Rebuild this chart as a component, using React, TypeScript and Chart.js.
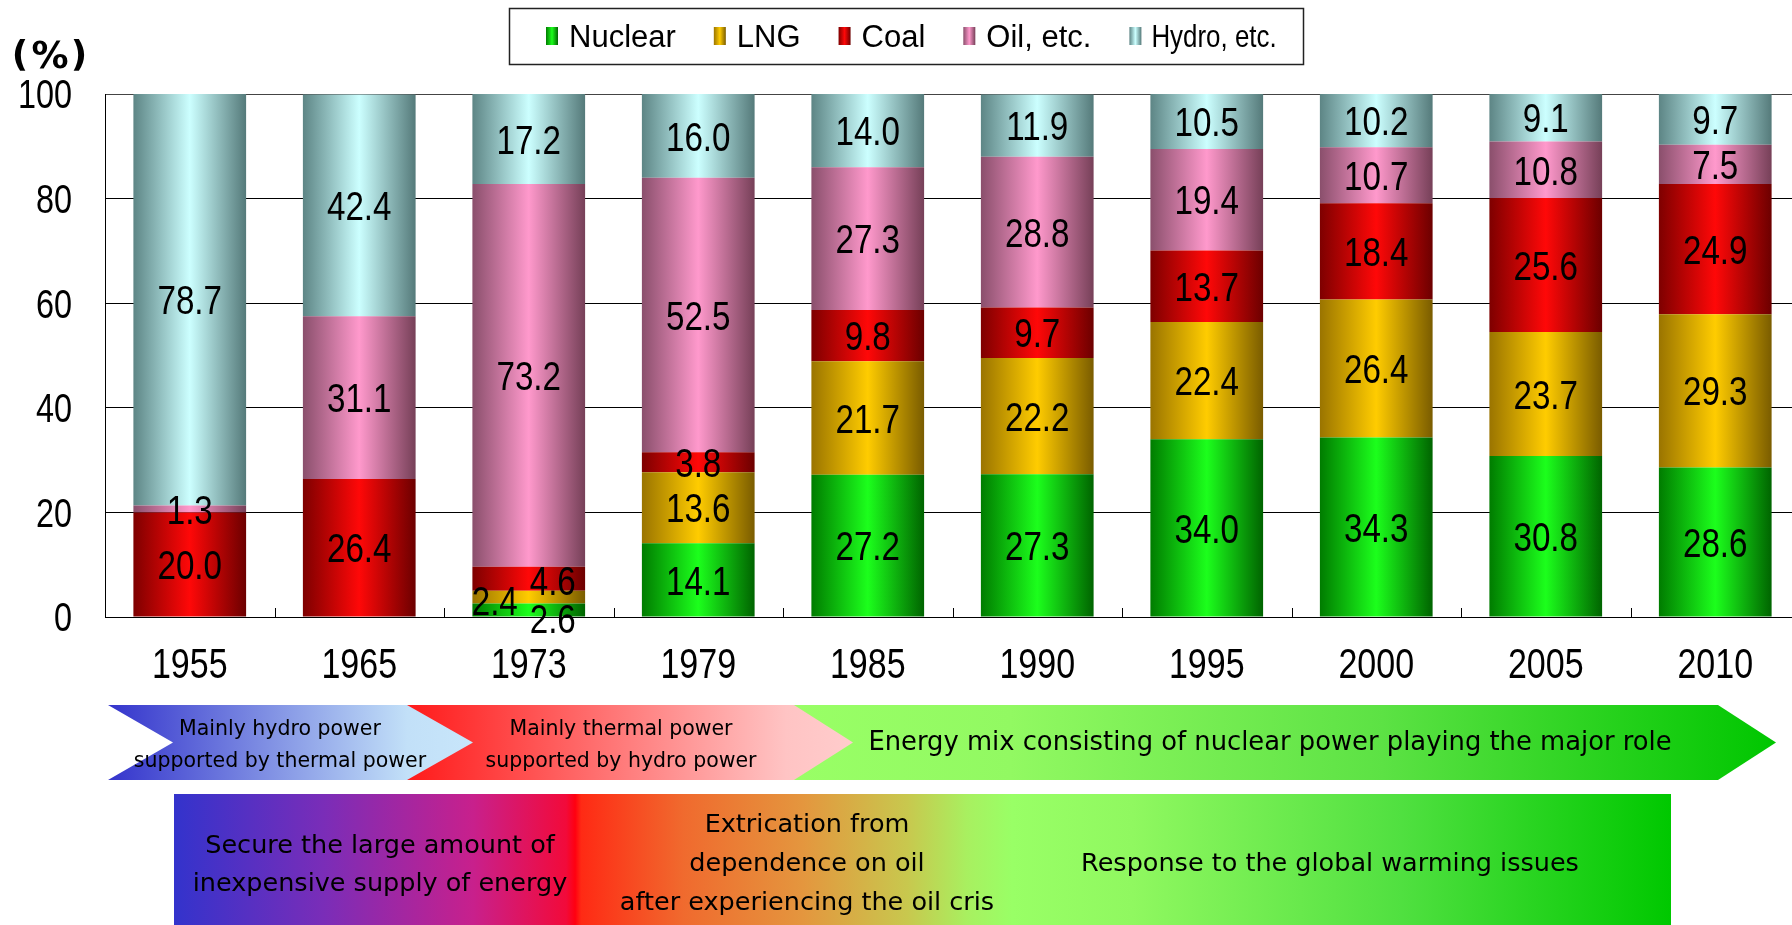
import { useEffect, useRef } from "react";
import { Chart, registerables } from "chart.js";

Chart.register(...registerables);

// Fiscal years on the category axis
const years = ["1955", "1965", "1973", "1979", "1985", "1990", "1995", "2000", "2005", "2010"];

// Share of generated electricity by source (%)
const nuclear = [0, 0, 2.6, 14.1, 27.2, 27.3, 34.0, 34.3, 30.8, 28.6];
const lng = [0, 0, 2.4, 13.6, 21.7, 22.2, 22.4, 26.4, 23.7, 29.3];
const coal = [20.0, 26.4, 4.6, 3.8, 9.8, 9.7, 13.7, 18.4, 25.6, 24.9];
const oil = [1.3, 31.1, 73.2, 52.5, 27.3, 28.8, 19.4, 10.7, 10.8, 7.5];
const hydro = [78.7, 42.4, 17.2, 16.0, 14.0, 11.9, 10.5, 10.2, 9.1, 9.7];

const sourceNames = ["Nuclear", "LNG", "Coal", "Oil, etc.", "Hydro, etc."];
const yTickValues = [0, 20, 40, 60, 80, 100];

// Phases of the power supply structure
const phaseTexts = [
  ["Mainly hydro power", "supported by thermal power"],
  ["Mainly thermal power", "supported by hydro power"],
  ["Energy mix consisting of nuclear power playing the major role"],
];
// Policy goals underneath the phases
const goalTexts = [
  ["Secure the large amount of", "inexpensive supply of energy"],
  ["Extrication from", "dependence on oil", "after experiencing the oil cris"],
  ["Response to the global warming issues"],
];

const REGULAR = '"Liberation Sans", Arial, sans-serif';
const CAPTION = '"DejaVu Sans", Verdana, sans-serif';
// horizontal squeeze that gives the tall, narrow numerals
const SQUEEZE = 0.81;
const CAP = 0.716; // cap height of Liberation Sans, in em

const BAR_PCT = 0.665;

// Cylinder shading for each source: left edge, highlight, right edge
const shades = [
  { dark: "#007c00", light: "#1cff1c", edge: "#006400" },
  { dark: "#9a7400", light: "#ffcc00", edge: "#7a5c00" },
  { dark: "#7e0000", light: "#ff0808", edge: "#6c0000" },
  { dark: "#8a4f6c", light: "#ff99cc", edge: "#764058" },
  { dark: "#5d8585", light: "#ccffff", edge: "#557a7a" },
];

// Small nudges for labels of the thin 1973 segments
const labelNudges: Record<string, [number, number]> = {
  "0-2": [24, 8],
  "1-2": [-34, 3],
  "2-2": [24, 2],
};

function cylinder(i: number) {
  const s = shades[i];
  return (c: any) => {
    const chart = c.chart;
    const xs = chart.scales && chart.scales.x;
    if (!xs || c.dataIndex == null || c.type !== "data") return s.light;
    const cx = xs.getPixelForValue(c.dataIndex);
    const half = ((xs.width / years.length) * BAR_PCT) / 2;
    if (!Number.isFinite(cx) || !Number.isFinite(half) || half <= 0) return s.light;
    const g = chart.ctx.createLinearGradient(cx - half, 0, cx + half, 0);
    g.addColorStop(0, s.dark);
    g.addColorStop(0.5, s.light);
    g.addColorStop(1, s.edge);
    return g;
  };
}

function hGradient(ctx: CanvasRenderingContext2D, x0: number, x1: number, stops: [number, string][]) {
  const g = ctx.createLinearGradient(x0, 0, x1, 0);
  stops.forEach(([o, col]) => g.addColorStop(o, col));
  return g;
}

function chevron(ctx: CanvasRenderingContext2D, x0: number, x1: number, tip: number, top: number, bottom: number, notch?: number) {
  const mid = (top + bottom) / 2;
  ctx.beginPath();
  ctx.moveTo(x0, top);
  ctx.lineTo(x1, top);
  ctx.lineTo(tip, mid);
  ctx.lineTo(x1, bottom);
  ctx.lineTo(x0, bottom);
  if (notch !== undefined) ctx.lineTo(notch, mid);
  ctx.closePath();
}

function centeredLines(ctx: CanvasRenderingContext2D, lines: string[], cx: number, ys: number[]) {
  lines.forEach((t, k) => ctx.fillText(t, cx, ys[k]));
}

// narrow text whose capitals are vertically centred on cy
function narrowText(ctx: CanvasRenderingContext2D, text: string, x: number, cy: number, size: number, align: CanvasTextAlign) {
  ctx.save();
  ctx.translate(x, cy + (CAP * size) / 2);
  ctx.scale(SQUEEZE, 1);
  ctx.font = `${size}px ${REGULAR}`;
  ctx.textAlign = align;
  ctx.textBaseline = "alphabetic";
  ctx.fillText(text, 0, 0);
  ctx.restore();
}

const valueLabels = {
  id: "valueLabels",
  afterDatasetsDraw(chart: any) {
    const ctx: CanvasRenderingContext2D = chart.ctx;
    ctx.save();
    ctx.fillStyle = "#000";
    chart.data.datasets.forEach((ds: any, di: number) => {
      const meta = chart.getDatasetMeta(di);
      meta.data.forEach((el: any, i: number) => {
        const v = ds.data[i] as number;
        if (!v) return;
        const [dx, dy] = labelNudges[`${di}-${i}`] || [0, 0];
        narrowText(ctx, v.toFixed(1), el.x + dx, (el.y + el.base) / 2 + dy, 41, "center");
      });
    });
    ctx.restore();
  },
};

const axisLabels = {
  id: "axisLabels",
  afterDraw(chart: any) {
    const ctx: CanvasRenderingContext2D = chart.ctx;
    const xs = chart.scales.x;
    const ys = chart.scales.y;
    ctx.save();
    ctx.fillStyle = "#000";
    xs.ticks.forEach((t: any, i: number) => {
      narrowText(ctx, String(xs.getLabelForValue(t.value)), xs.getPixelForTick(i), chart.chartArea.bottom + 46, 42, "center");
    });
    ys.ticks.forEach((t: any) => {
      narrowText(ctx, String(t.value), ys.left + ys.width - 33, ys.getPixelForValue(t.value), 40, "right");
    });
    ctx.restore();
  },
};

const decorations = {
  id: "decorations",
  afterDraw(chart: any) {
    const ctx: CanvasRenderingContext2D = chart.ctx;
    const xs = chart.scales.x;
    const area = chart.chartArea;
    ctx.save();

    // inward tick marks between categories
    ctx.strokeStyle = "#000";
    ctx.lineWidth = 1;
    for (let i = 1; i < years.length; i++) {
      const x = Math.round((xs.getPixelForValue(i - 1) + xs.getPixelForValue(i)) / 2) + 0.5;
      ctx.beginPath();
      ctx.moveTo(x, area.bottom);
      ctx.lineTo(x, area.bottom - 9);
      ctx.stroke();
    }

    // unit label
    ctx.fillStyle = "#000";
    ctx.textAlign = "center";
    ctx.textBaseline = "middle";
    ctx.font = `bold 36px ${CAPTION}`;
    ctx.fillText("(", 20, 57);
    ctx.fillText(")", 79, 57);
    ctx.font = `bold 37px ${CAPTION}`;
    ctx.fillText("%", 50, 58);

    // legend
    ctx.lineWidth = 1.5;
    ctx.strokeStyle = "#222";
    ctx.strokeRect(509.5, 8.5, 794, 56);
    let lx = 546;
    chart.data.datasets.forEach((ds: any, di: number) => {
      const s = shades[di];
      ctx.fillStyle = hGradient(ctx, lx, lx + 12, [[0, s.dark], [0.5, s.light], [1, s.edge]]);
      ctx.fillRect(lx, 27, 12, 18);
      ctx.fillStyle = "#000";
      let w: number;
      if (di === 4) {
        narrowText(ctx, ds.label, lx + 22, 36, 32, "left");
        ctx.font = `32px ${REGULAR}`;
        w = ctx.measureText(ds.label).width * SQUEEZE;
      } else {
        ctx.font = `31px ${REGULAR}`;
        ctx.textAlign = "left";
        ctx.textBaseline = "alphabetic";
        ctx.fillText(ds.label, lx + 23, 36 + (CAP * 31) / 2);
        w = ctx.measureText(ds.label).width;
      }
      lx += 23 + w + 38;
    });

    // phase arrows
    const top = 705;
    const bottom = 780;
    chevron(ctx, 794, 1718, 1776, top, bottom);
    ctx.fillStyle = hGradient(ctx, 794, 1776, [[0, "#99ff66"], [0.22, "#92f962"], [0.6, "#5ce244"], [1, "#00c600"]]);
    ctx.fill();
    chevron(ctx, 407, 794, 853, top, bottom);
    ctx.fillStyle = hGradient(ctx, 407, 853, [[0, "#ff1a1a"], [0.85, "#ffc4c4"], [1, "#ffcccc"]]);
    ctx.fill();
    chevron(ctx, 108, 407, 473, top, bottom, 173);
    ctx.fillStyle = hGradient(ctx, 108, 473, [[0, "#3434cc"], [0.82, "#c2e0f8"], [1, "#c8e6fa"]]);
    ctx.fill();

    // goal band
    ctx.fillStyle = hGradient(ctx, 174, 1671, [
      [0, "#3333cc"],
      [0.1, "#7a2db8"],
      [0.2, "#c8208c"],
      [0.262, "#f20a3a"],
      [0.268, "#ff0010"],
      [0.272, "#ff2a14"],
      [0.34, "#f06a2e"],
      [0.42, "#e4963e"],
      [0.49, "#c8c84e"],
      [0.53, "#a8f060"],
      [0.56, "#99ff66"],
      [0.64, "#90f860"],
      [0.82, "#50e040"],
      [1, "#00c800"],
    ]);
    ctx.fillRect(174, 794, 1497, 140);

    // captions
    ctx.fillStyle = "#000";
    ctx.textAlign = "center";
    ctx.textBaseline = "middle";
    ctx.font = `20.5px ${CAPTION}`;
    centeredLines(ctx, phaseTexts[0], 280, [730, 762]);
    centeredLines(ctx, phaseTexts[1], 621, [730, 762]);
    ctx.font = `25.8px ${CAPTION}`;
    centeredLines(ctx, phaseTexts[2], 1270, [743]);
    ctx.font = `25.5px ${CAPTION}`;
    centeredLines(ctx, goalTexts[0], 380, [846, 884]);
    centeredLines(ctx, goalTexts[1], 807, [825, 864, 903]);
    centeredLines(ctx, goalTexts[2], 1330, [864]);

    ctx.restore();
  },
};

export default function App() {
  const ref = useRef<HTMLCanvasElement>(null);

  useEffect(() => {
    const canvas = ref.current;
    if (!canvas) return;
    const series = [nuclear, lng, coal, oil, hydro];
    const chart = new Chart(canvas, {
      type: "bar",
      data: {
        labels: years,
        datasets: series.map((d, i) => ({
          label: sourceNames[i],
          data: d,
          backgroundColor: cylinder(i) as any,
          borderWidth: 0,
          categoryPercentage: 1,
          barPercentage: BAR_PCT,
        })),
      },
      options: {
        animation: false,
        responsive: false,
        maintainAspectRatio: false,
        layout: { padding: { top: 94, bottom: 238, left: 0, right: 0 } },
        plugins: {
          legend: { display: false },
          tooltip: { enabled: false },
        },
        scales: {
          x: {
            stacked: true,
            grid: { display: false, drawTicks: false },
            border: { display: true, color: "#000", width: 1 },
            ticks: { display: false },
            afterFit: (s: any) => {
              s.height = 70;
            },
          },
          y: {
            stacked: true,
            min: 0,
            max: 100,
            afterBuildTicks: (s: any) => {
              s.ticks = yTickValues.map((v) => ({ value: v }));
            },
            grid: {
              color: (c: any) => (c.tick && c.tick.value === 100 ? "#444" : "#000"),
              lineWidth: 1,
              drawTicks: false,
            },
            border: { display: true, color: "#000", width: 1 },
            ticks: { display: false },
            afterFit: (s: any) => {
              s.width = 105;
            },
          },
        },
      },
      plugins: [valueLabels, axisLabels, decorations],
    });
    return () => chart.destroy();
  }, []);

  return (
    <div
      style={{
        position: "fixed",
        left: 0,
        top: 0,
        width: 1792,
        height: 925,
        overflow: "hidden",
        background: "#fff",
      }}
    >
      <canvas ref={ref} width={1800} height={925} style={{ display: "block", width: 1800, height: 925 }} />
    </div>
  );
}
